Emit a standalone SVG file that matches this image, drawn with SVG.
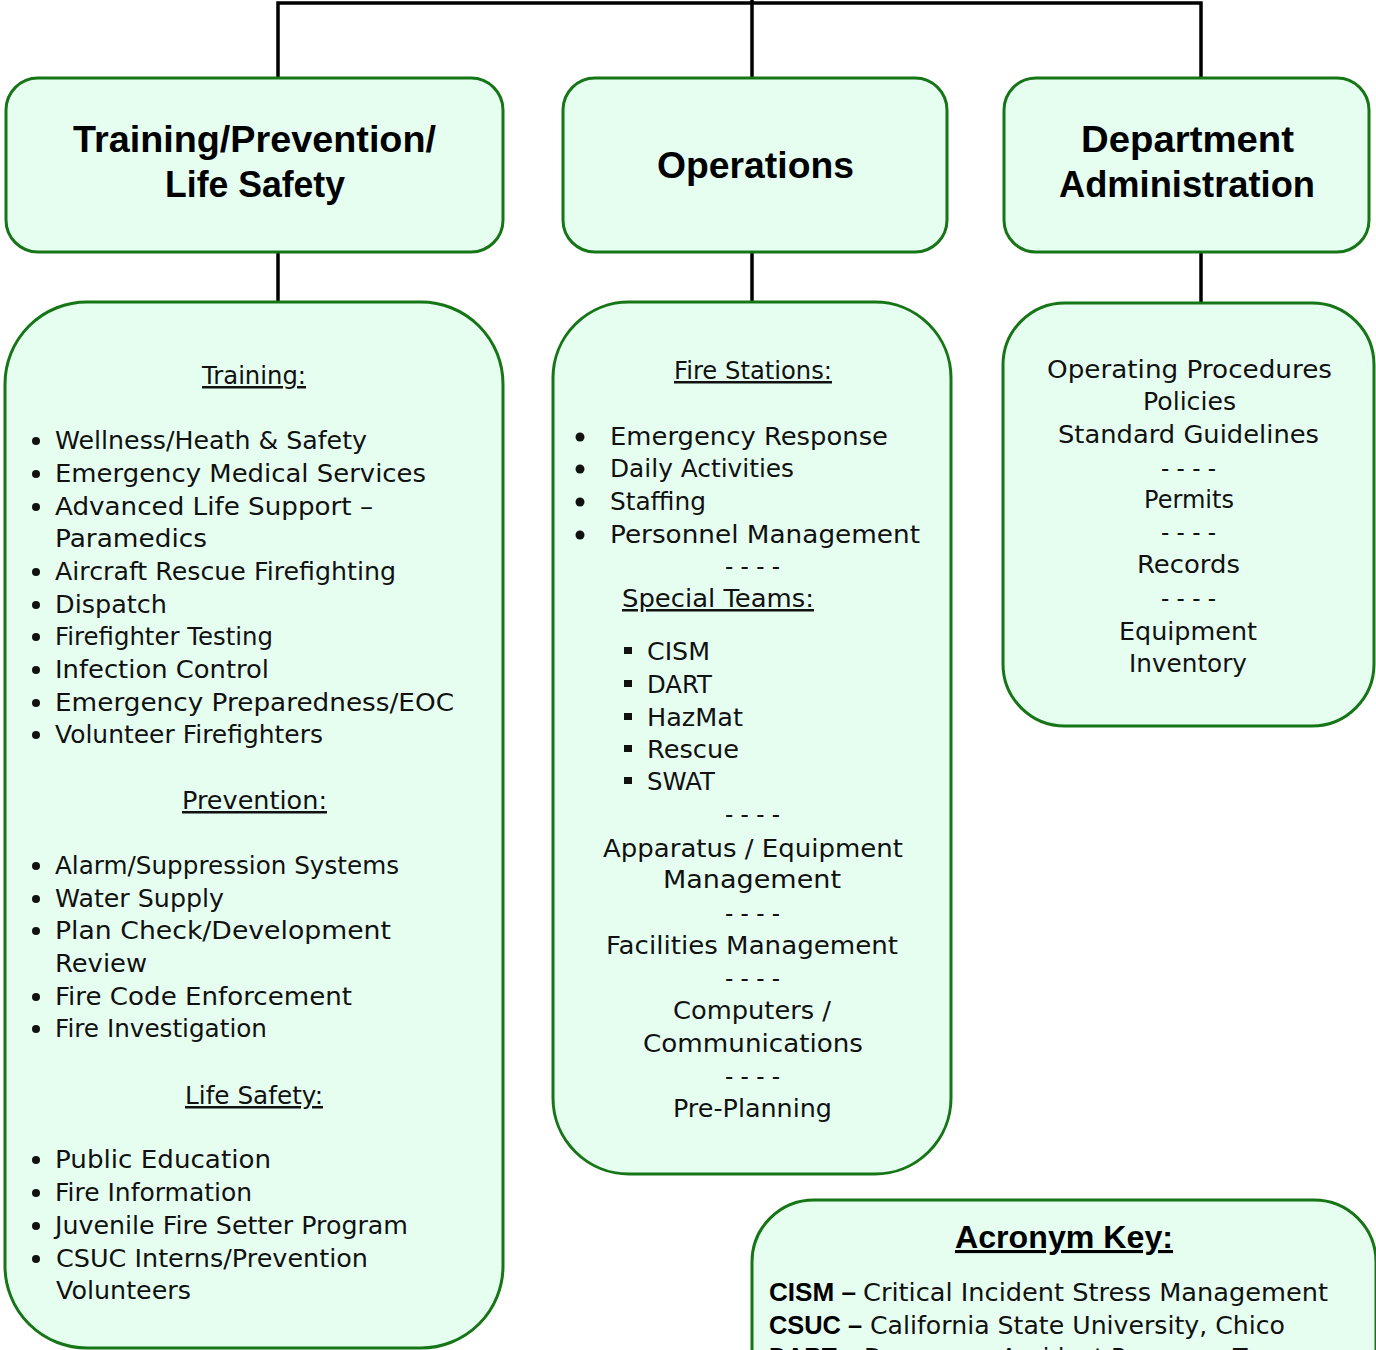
<svg xmlns="http://www.w3.org/2000/svg" width="1376" height="1350" viewBox="0 0 1376 1350">
<style>
.box{fill:#E5FEF0;stroke:#167516;stroke-width:3}
.con{stroke:#000;stroke-width:3.5;fill:none}
.t{font-family:"DejaVu Sans","Liberation Sans",sans-serif;font-size:25px;fill:#111}
.h{font-family:"Liberation Sans",Arial,sans-serif;font-weight:bold;font-size:36px;fill:#000}
.k{font-family:"Liberation Sans",Arial,sans-serif;font-weight:bold;font-size:25px;fill:#000}
.u{text-decoration:underline}
.b{fill:#111}
</style>
<g id="connectors">
<path class="con" d="M278,78 V3 H1201 V78"/>
<path class="con" d="M752,0 V78"/>
<path class="con" d="M278,252 V302"/>
<path class="con" d="M752,252 V302"/>
<path class="con" d="M1201,252 V302"/>
</g>
<g id="hdr-training">
<rect class="box" x="6" y="78" width="497" height="174" rx="32"/>
<text class="h" x="73" y="152" textLength="363" lengthAdjust="spacingAndGlyphs">Training/Prevention/</text>
<text class="h" x="165" y="197" textLength="180" lengthAdjust="spacingAndGlyphs">Life Safety</text>
</g>
<g id="hdr-operations">
<rect class="box" x="563" y="78" width="384" height="174" rx="32"/>
<text class="h" x="657" y="178" textLength="197" lengthAdjust="spacingAndGlyphs">Operations</text>
</g>
<g id="hdr-admin">
<rect class="box" x="1004" y="78" width="365" height="174" rx="32"/>
<text class="h" x="1081" y="152" textLength="213" lengthAdjust="spacingAndGlyphs">Department</text>
<text class="h" x="1059" y="197" textLength="256" lengthAdjust="spacingAndGlyphs">Administration</text>
</g>
<g id="training-details">
<rect class="box" x="5" y="302" width="498" height="1046" rx="82"/>
<text class="t u" x="202" y="384" textLength="104" lengthAdjust="spacingAndGlyphs">Training:</text>
<circle class="b" cx="36" cy="441" r="4"/><text class="t" x="55" y="449" textLength="312" lengthAdjust="spacingAndGlyphs">Wellness/Heath &amp; Safety</text>
<circle class="b" cx="36" cy="474" r="4"/><text class="t" x="55" y="482" textLength="371" lengthAdjust="spacingAndGlyphs">Emergency Medical Services</text>
<circle class="b" cx="36" cy="507" r="4"/><text class="t" x="55" y="515" textLength="318" lengthAdjust="spacingAndGlyphs">Advanced Life Support –</text>
<text class="t" x="55" y="547" textLength="152" lengthAdjust="spacingAndGlyphs">Paramedics</text>
<circle class="b" cx="36" cy="572" r="4"/><text class="t" x="55" y="580" textLength="341" lengthAdjust="spacingAndGlyphs">Aircraft Rescue Firefighting</text>
<circle class="b" cx="36" cy="605" r="4"/><text class="t" x="55" y="613" textLength="112" lengthAdjust="spacingAndGlyphs">Dispatch</text>
<circle class="b" cx="36" cy="637" r="4"/><text class="t" x="55" y="645" textLength="218" lengthAdjust="spacingAndGlyphs">Firefighter Testing</text>
<circle class="b" cx="36" cy="670" r="4"/><text class="t" x="55" y="678" textLength="214" lengthAdjust="spacingAndGlyphs">Infection Control</text>
<circle class="b" cx="36" cy="703" r="4"/><text class="t" x="55" y="711" textLength="399" lengthAdjust="spacingAndGlyphs">Emergency Preparedness/EOC</text>
<circle class="b" cx="36" cy="735" r="4"/><text class="t" x="55" y="743" textLength="268" lengthAdjust="spacingAndGlyphs">Volunteer Firefighters</text>
<text class="t u" x="182" y="809" textLength="145" lengthAdjust="spacingAndGlyphs">Prevention:</text>
<circle class="b" cx="36" cy="866" r="4"/><text class="t" x="55" y="874" textLength="344" lengthAdjust="spacingAndGlyphs">Alarm/Suppression Systems</text>
<circle class="b" cx="36" cy="899" r="4"/><text class="t" x="55" y="907" textLength="169" lengthAdjust="spacingAndGlyphs">Water Supply</text>
<circle class="b" cx="36" cy="931" r="4"/><text class="t" x="55" y="939" textLength="336" lengthAdjust="spacingAndGlyphs">Plan Check/Development</text>
<text class="t" x="55" y="972" textLength="92" lengthAdjust="spacingAndGlyphs">Review</text>
<circle class="b" cx="36" cy="997" r="4"/><text class="t" x="55" y="1005" textLength="297" lengthAdjust="spacingAndGlyphs">Fire Code Enforcement</text>
<circle class="b" cx="36" cy="1029" r="4"/><text class="t" x="55" y="1037" textLength="212" lengthAdjust="spacingAndGlyphs">Fire Investigation</text>
<text class="t u" x="185" y="1104" textLength="138" lengthAdjust="spacingAndGlyphs">Life Safety:</text>
<circle class="b" cx="36" cy="1160" r="4"/><text class="t" x="55" y="1168" textLength="216" lengthAdjust="spacingAndGlyphs">Public Education</text>
<circle class="b" cx="36" cy="1193" r="4"/><text class="t" x="55" y="1201" textLength="197" lengthAdjust="spacingAndGlyphs">Fire Information</text>
<circle class="b" cx="36" cy="1226" r="4"/><text class="t" x="55" y="1234" textLength="353" lengthAdjust="spacingAndGlyphs">Juvenile Fire Setter Program</text>
<circle class="b" cx="36" cy="1259" r="4"/><text class="t" x="56" y="1267" textLength="312" lengthAdjust="spacingAndGlyphs">CSUC Interns/Prevention</text>
<text class="t" x="56" y="1299" textLength="135" lengthAdjust="spacingAndGlyphs">Volunteers</text>
</g>
<g id="operations-details">
<rect class="box" x="553" y="302" width="398" height="872" rx="76"/>
<text class="t u" x="674" y="379" textLength="158" lengthAdjust="spacingAndGlyphs">Fire Stations:</text>
<circle class="b" cx="580" cy="437" r="4.5"/><text class="t" x="610" y="445" textLength="278" lengthAdjust="spacingAndGlyphs">Emergency Response</text>
<circle class="b" cx="580" cy="469" r="4.5"/><text class="t" x="610" y="477" textLength="184" lengthAdjust="spacingAndGlyphs">Daily Activities</text>
<circle class="b" cx="580" cy="502" r="4.5"/><text class="t" x="610" y="510" textLength="96" lengthAdjust="spacingAndGlyphs">Staffing</text>
<circle class="b" cx="580" cy="535" r="4.5"/><text class="t" x="610" y="543" textLength="310" lengthAdjust="spacingAndGlyphs">Personnel Management</text>
<text class="t" x="725" y="575" textLength="55" lengthAdjust="spacingAndGlyphs">- - - -</text>
<text class="t u" x="622" y="607" textLength="192" lengthAdjust="spacingAndGlyphs">Special Teams:</text>
<rect class="b" x="624" y="647" width="8" height="7"/><text class="t" x="647" y="660" textLength="63" lengthAdjust="spacingAndGlyphs">CISM</text>
<rect class="b" x="624" y="680" width="8" height="7"/><text class="t" x="647" y="693" textLength="65" lengthAdjust="spacingAndGlyphs">DART</text>
<rect class="b" x="624" y="713" width="8" height="7"/><text class="t" x="647" y="726" textLength="96" lengthAdjust="spacingAndGlyphs">HazMat</text>
<rect class="b" x="624" y="745" width="8" height="7"/><text class="t" x="647" y="758" textLength="92" lengthAdjust="spacingAndGlyphs">Rescue</text>
<rect class="b" x="624" y="777" width="8" height="7"/><text class="t" x="647" y="790" textLength="68" lengthAdjust="spacingAndGlyphs">SWAT</text>
<text class="t" x="725" y="823" textLength="55" lengthAdjust="spacingAndGlyphs">- - - -</text>
<text class="t" x="603" y="857" textLength="300" lengthAdjust="spacingAndGlyphs">Apparatus / Equipment</text>
<text class="t" x="663" y="888" textLength="178" lengthAdjust="spacingAndGlyphs">Management</text>
<text class="t" x="725" y="922" textLength="55" lengthAdjust="spacingAndGlyphs">- - - -</text>
<text class="t" x="606" y="954" textLength="292" lengthAdjust="spacingAndGlyphs">Facilities Management</text>
<text class="t" x="725" y="987" textLength="55" lengthAdjust="spacingAndGlyphs">- - - -</text>
<text class="t" x="673" y="1019" textLength="158" lengthAdjust="spacingAndGlyphs">Computers /</text>
<text class="t" x="643" y="1052" textLength="220" lengthAdjust="spacingAndGlyphs">Communications</text>
<text class="t" x="725" y="1085" textLength="55" lengthAdjust="spacingAndGlyphs">- - - -</text>
<text class="t" x="673" y="1117" textLength="159" lengthAdjust="spacingAndGlyphs">Pre-Planning</text>
</g>
<g id="admin-details">
<rect class="box" x="1003" y="303" width="371" height="423" rx="62"/>
<text class="t" x="1047" y="378" textLength="285" lengthAdjust="spacingAndGlyphs">Operating Procedures</text>
<text class="t" x="1143" y="410" textLength="93" lengthAdjust="spacingAndGlyphs">Policies</text>
<text class="t" x="1058" y="443" textLength="261" lengthAdjust="spacingAndGlyphs">Standard Guidelines</text>
<text class="t" x="1161" y="477" textLength="55" lengthAdjust="spacingAndGlyphs">- - - -</text>
<text class="t" x="1144" y="508" textLength="90" lengthAdjust="spacingAndGlyphs">Permits</text>
<text class="t" x="1161" y="541" textLength="55" lengthAdjust="spacingAndGlyphs">- - - -</text>
<text class="t" x="1137" y="573" textLength="103" lengthAdjust="spacingAndGlyphs">Records</text>
<text class="t" x="1161" y="607" textLength="55" lengthAdjust="spacingAndGlyphs">- - - -</text>
<text class="t" x="1119" y="640" textLength="138" lengthAdjust="spacingAndGlyphs">Equipment</text>
<text class="t" x="1129" y="672" textLength="118" lengthAdjust="spacingAndGlyphs">Inventory</text>
</g>
<g id="acronym-key">
<rect class="box" x="752" y="1200" width="624" height="260" rx="62"/>
<text class="h u" x="955" y="1248" style="font-size:31px" textLength="218" lengthAdjust="spacingAndGlyphs">Acronym Key:</text>
<text class="k" x="769" y="1301" textLength="87" lengthAdjust="spacingAndGlyphs">CISM –</text>
<text class="t" x="863" y="1301" textLength="465" lengthAdjust="spacingAndGlyphs">Critical Incident Stress Management</text>
<text class="k" x="769" y="1334" textLength="93" lengthAdjust="spacingAndGlyphs">CSUC –</text>
<text class="t" x="870" y="1334" textLength="415" lengthAdjust="spacingAndGlyphs">California State University, Chico</text>
<text class="k" x="769" y="1366" textLength="88" lengthAdjust="spacingAndGlyphs">DART –</text>
<text class="t" x="864" y="1366" textLength="432" lengthAdjust="spacingAndGlyphs">Dangerous Accident Response Team</text>
</g>
</svg>
